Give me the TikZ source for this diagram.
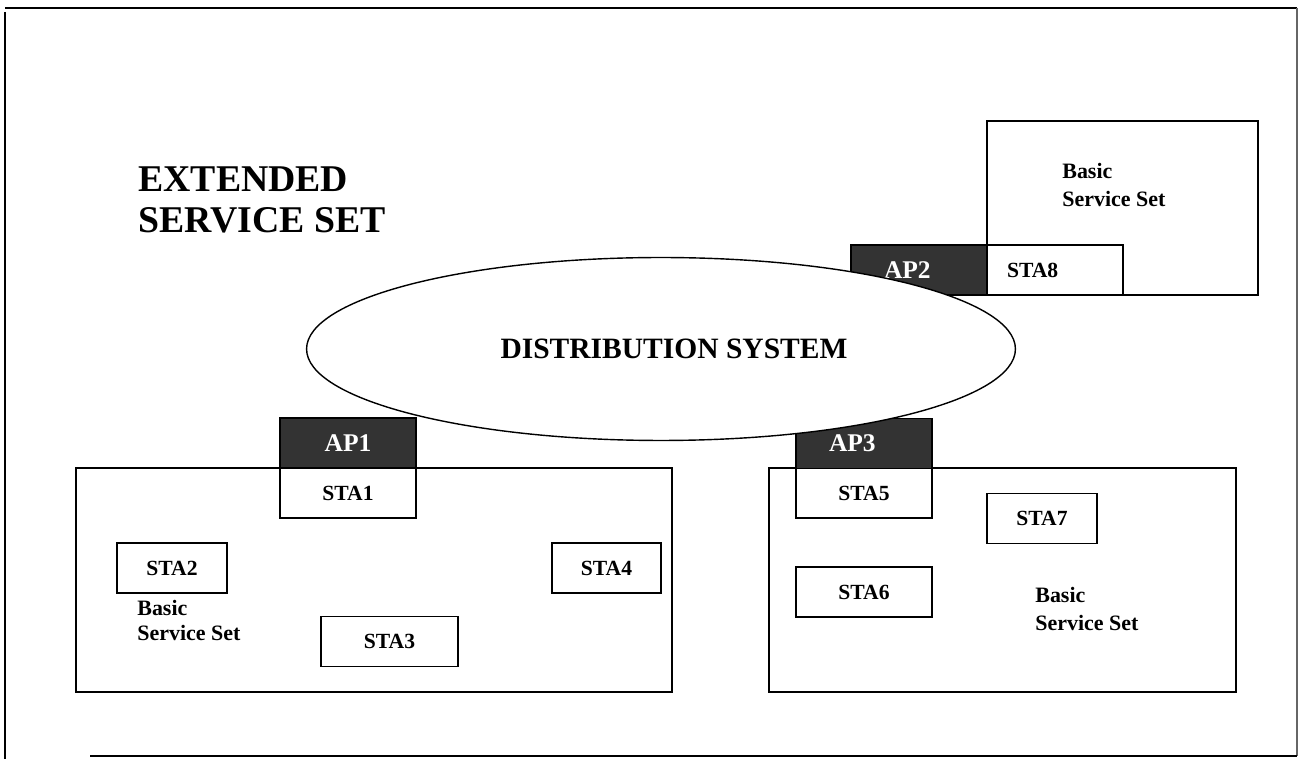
\documentclass[tikz,border=0pt]{standalone}
\usepackage{fontspec}
\setmainfont{Liberation Serif}
\usetikzlibrary{shapes,positioning}

\begin{document}
\begin{tikzpicture}[
    x=0.02cm, y=-0.02cm,
    bss/.style={rectangle, draw, line width=0.8pt},
    sta/.style={rectangle, draw, line width=0.8pt, fill=white, minimum width=2.72cm, minimum height=1cm, font=\fontsize{12.3}{14}\selectfont\bfseries},
    ap/.style={sta, fill=black!80, text=white, font=\fontsize{14.5}{16}\selectfont\bfseries},
    bsslabel/.style={anchor=north west, inner sep=0pt, align=left, font=\fontsize{12.5}{16}\selectfont\bfseries},
    outerline/.style={line width=1.1pt}
]
\useasboundingbox (0,0) rectangle (1299,759);

% Frame
\draw[outerline] (5,8) -- (1297,8);
\draw[outerline] (5,12) -- (5,759);
\draw[outerline, black!60] (1297,8) -- (1297,756);
\draw[outerline] (90,756) -- (1297,756);

% Title
\node[anchor=north west, inner sep=0pt, align=left, font=\fontsize{21.5}{23.3}\selectfont\bfseries] (title) at (138,166) {EXTENDED\\SERVICE SET};

% Basic service sets
\node[bss, minimum width=11.92cm, minimum height=4.48cm] (bss1) at (374,580) {};
\node[bss, minimum width=9.34cm, minimum height=4.48cm] (bss3) at (1002.5,580) {};
\node[bss, minimum width=5.42cm, minimum height=3.48cm] (bss2) at (1122.5,208) {};

% Stations, left set
\node[sta] (sta1) at (348,493) {STA1};
\node[sta, minimum width=2.2cm] (sta2) at (172,568) {STA2};
\node[sta, minimum width=2.74cm] (sta3) at (389.5,641.5) {STA3};
\node[sta, minimum width=2.18cm] (sta4) at (606.5,568) {STA4};
\node[bsslabel, font=\fontsize{12.5}{14}\selectfont\bfseries] (lbl1) at (137,600) {Basic\\Service Set};

% Stations, right set
\node[sta] (sta5) at (864,493) {STA5};
\node[sta] (sta6) at (864,592) {STA6};
\node[sta, minimum width=2.2cm] (sta7) at (1042,518.5) {STA7};
\node[bsslabel] (lbl3) at (1035,587) {Basic\\Service Set};

% Station, top set
\node[sta, align=left, text width=1.92cm, inner xsep=0.4cm] (sta8) at (1055,270) {STA8};
\node[bsslabel] (lbl2) at (1062,163) {Basic\\Service Set};

% Access points
\node[ap] (ap1) at (348,443) {AP1};
\node[ap, align=left, text width=1.4cm, inner xsep=0.66cm] (ap2) at (919,270) {AP2};
\node[ap, align=left, text width=1.4cm, inner xsep=0.66cm] (ap3) at (864,443.5) {AP3};

% Distribution system
\node[ellipse, draw, fill=white, line width=0.8pt, minimum width=14.18cm, minimum height=3.66cm, inner sep=0pt, font=\fontsize{16.8}{18}\selectfont\bfseries] (ds) at (661,349) {\hspace*{0.52cm}DISTRIBUTION SYSTEM};
\end{tikzpicture}
\end{document}
